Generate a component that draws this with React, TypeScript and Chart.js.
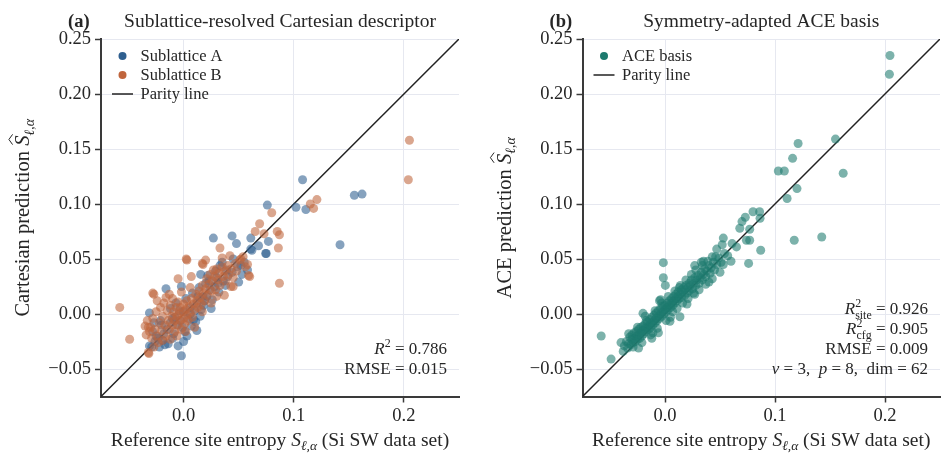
import React, { useEffect, useRef } from "react";
import { Chart, registerables } from "chart.js";

Chart.register(...registerables);

const FONT = "'Liberation Serif', 'Times New Roman', serif";
const TEXT = "#262626";
const SPINE = "#3a3a3a";
const GRID = "#e6e8f0";

type Pt = [number, number];

const xTickValues = [0, 0.1, 0.2];
const yTickValues = [-0.05, 0, 0.05, 0.1, 0.15, 0.2, 0.25];
const axisMin = -0.075;
const axisMax = 0.25;
const parityEnds = [-0.075, 0.25];

const sublatticeA: Pt[] = [
  [0.108, 0.122], [0.155, 0.108], [0.162, 0.109], [0.102, 0.097], [0.111, 0.095], [0.142, 0.063],
  [0.076, 0.099], [0.077, 0.066], [0.075, 0.055], [0.061, 0.069], [0.061, 0.059], [0.044, 0.071],
  [0.048, 0.064], [0.027, 0.069], [0.052, 0.044], [0.050, 0.029], [0.0745, 0.055], [0.062, 0.058],
  [0.049, 0.043], [0.039, 0.040], [0.033, 0.044], [0.022, 0.035], [0.0155, 0.036], [0.026, 0.013],
  [0.0176, 0.016], [-0.002, 0.025], [-0.016, 0.023], [-0.031, 0.001], [-0.031, -0.029], [-0.022, -0.030],
  [-0.005, -0.029], [-0.002, -0.038], [-0.014, -0.027], [-0.019, -0.024], [-0.010, -0.022], [0.001, -0.016],
  [0.007, -0.011], [0.015, -0.002], [-0.028, -0.016], [-0.029, -0.030], [-0.025, -0.020],
  [0.040, 0.034], [0.036, 0.030], [0.030, 0.033], [0.028, 0.025], [0.032, 0.020], [0.024, 0.022],
  [0.020, 0.028], [0.018, 0.008], [0.012, 0.010], [0.010, 0.003], [0.006, 0.006], [0.004, -0.004],
  [0.000, 0.002], [-0.003, -0.006], [-0.006, -0.010], [-0.008, -0.003], [-0.012, -0.008], [-0.015, -0.014],
  [-0.018, -0.018], [-0.020, -0.010], [-0.023, -0.022], [-0.026, -0.025], [-0.012, 0.005], [-0.007, 0.010],
  [0.002, 0.014], [0.008, 0.019], [0.014, 0.024], [0.045, 0.050], [0.055, 0.047], [0.058, 0.040],
  [0.068, 0.062], [0.035, 0.047], [0.029, 0.039], [0.021, 0.016], [0.016, 0.004], [0.009, -0.005],
  [-0.001, -0.012], [-0.017, -0.028], [-0.009, -0.018], [0.003, -0.020], [0.011, -0.007], [0.025, 0.005],
  [0.038, 0.026], [0.044, 0.038], [0.053, 0.036], [-0.004, 0.003], [-0.010, -0.004], [0.006, 0.000],
  [0.013, 0.016], [0.019, 0.012], [0.023, 0.030], [0.031, 0.028], [-0.021, -0.006], [-0.027, -0.008],
  [0.000, -0.025], [0.012, -0.015],
];

const sublatticeB: Pt[] = [
  [0.205, 0.158], [0.204, 0.122], [0.121, 0.104], [0.115, 0.100], [0.118, 0.096], [0.080, 0.092],
  [0.069, 0.082], [0.065, 0.075], [0.073, 0.073], [0.085, 0.075], [0.087, 0.072], [0.086, 0.060],
  [0.087, 0.028], [0.033, 0.060], [0.042, 0.053], [0.035, 0.051], [0.052, 0.050], [0.058, 0.045],
  [0.003, 0.049], [0.020, 0.049], [0.017, 0.046], [0.059, 0.035], [0.043, 0.025], [-0.005, 0.032],
  [-0.027, 0.018], [-0.013, 0.018], [-0.058, 0.006], [-0.049, -0.023], [-0.032, -0.035], [-0.035, -0.011],
  [-0.034, -0.019], [0.0024, 0.050], [0.0176, 0.045], [0.007, 0.034], [0.051, 0.049], [0.060, 0.034],
  [0.045, 0.025], [0.037, 0.017], [0.030, 0.016], [-0.028, 0.019], [-0.0315, -0.036], [-0.032, -0.012],
  [-0.030, -0.012], [-0.028, -0.004], [-0.026, -0.014], [-0.025, 0.002], [-0.024, -0.020], [-0.022, -0.008],
  [-0.021, 0.006], [-0.020, -0.015], [-0.019, -0.002], [-0.018, 0.010], [-0.017, -0.010], [-0.016, -0.020],
  [-0.015, 0.003], [-0.014, -0.006], [-0.013, -0.014], [-0.012, 0.008], [-0.011, -0.002], [-0.010, -0.010],
  [-0.010, 0.014], [-0.009, 0.002], [-0.008, -0.006], [-0.008, -0.016], [-0.007, 0.006], [-0.006, -0.002],
  [-0.005, -0.010], [-0.005, 0.011], [-0.004, 0.000], [-0.003, -0.006], [-0.003, 0.006], [-0.002, -0.014],
  [-0.001, 0.002], [0.000, -0.004], [0.000, 0.009], [0.001, -0.009], [0.002, 0.004], [0.003, -0.001],
  [0.003, 0.012], [0.004, -0.006], [0.005, 0.007], [0.006, 0.001], [0.007, 0.014], [0.008, -0.003],
  [0.009, 0.009], [0.010, 0.004], [0.011, 0.018], [0.012, 0.012], [0.013, 0.006], [0.014, 0.021],
  [0.015, 0.015], [0.016, 0.009], [0.017, 0.026], [0.018, 0.019], [0.019, 0.012], [0.020, 0.023],
  [0.021, 0.032], [0.022, 0.017], [0.023, 0.027], [0.024, 0.036], [0.025, 0.021], [0.026, 0.030],
  [0.027, 0.040], [0.028, 0.034], [0.029, 0.022], [0.030, 0.041], [0.031, 0.031], [0.032, 0.037],
  [0.033, 0.026], [0.035, 0.043], [0.036, 0.034], [0.037, 0.039], [0.038, 0.030], [0.040, 0.044],
  [0.041, 0.036], [0.043, 0.041], [0.045, 0.033], [0.047, 0.046], [0.048, 0.039], [0.054, 0.052],
  [0.056, 0.043], [-0.023, -0.026], [-0.019, -0.024], [-0.027, -0.030], [-0.012, -0.023], [-0.006, -0.020],
  [0.002, -0.016], [-0.029, -0.022], [-0.031, -0.016], [-0.033, -0.006], [-0.024, 0.012], [-0.016, 0.015],
  [-0.002, 0.020], [0.006, 0.024], [0.010, -0.012], [0.017, 0.002], [0.025, 0.010],
];

const aceBasis: Pt[] = [
  [0.2045, 0.235], [0.204, 0.218], [0.121, 0.155], [0.155, 0.159], [0.116, 0.1415], [0.103, 0.130],
  [0.1085, 0.130], [0.162, 0.128], [0.120, 0.114], [0.111, 0.105], [0.080, 0.093], [0.086, 0.093],
  [0.0864, 0.087], [0.073, 0.088], [0.070, 0.084], [0.068, 0.078], [0.077, 0.077], [0.053, 0.069],
  [0.061, 0.064], [0.065, 0.061], [0.074, 0.067], [0.077, 0.067], [0.1175, 0.067], [0.1425, 0.070],
  [0.087, 0.058], [0.047, 0.059], [0.052, 0.063], [0.076, 0.046], [0.053, 0.045], [0.060, 0.048],
  [0.043, 0.052], [0.035, 0.048], [0.027, 0.044], [-0.0015, 0.0467], [-0.0015, 0.033], [0.0003, 0.026],
  [-0.005, 0.012], [-0.020, 0.0006], [-0.058, -0.020], [-0.049, -0.041], [-0.006, -0.017], [-0.012, -0.022],
  [0.0136, -0.0025], [0.0045, -0.0067],
  [-0.037, -0.029], [-0.035, -0.025], [-0.034, -0.031], [-0.033, -0.027], [-0.032, -0.021], [-0.031, -0.028],
  [-0.030, -0.023], [-0.030, -0.019], [-0.029, -0.026], [-0.028, -0.022], [-0.028, -0.017], [-0.027, -0.025],
  [-0.026, -0.020], [-0.026, -0.016], [-0.025, -0.023], [-0.024, -0.019], [-0.024, -0.014], [-0.023, -0.022],
  [-0.022, -0.017], [-0.022, -0.012], [-0.021, -0.020], [-0.020, -0.015], [-0.020, -0.011], [-0.019, -0.018],
  [-0.018, -0.013], [-0.018, -0.009], [-0.017, -0.016], [-0.016, -0.012], [-0.016, -0.007], [-0.015, -0.014],
  [-0.014, -0.010], [-0.014, -0.005], [-0.013, -0.012], [-0.012, -0.008], [-0.012, -0.003], [-0.011, -0.010],
  [-0.010, -0.006], [-0.010, -0.001], [-0.009, -0.008], [-0.008, -0.004], [-0.008, 0.001], [-0.007, -0.006],
  [-0.006, -0.002], [-0.006, 0.003], [-0.005, -0.004], [-0.004, 0.000], [-0.004, 0.005], [-0.003, -0.002],
  [-0.002, 0.002], [-0.002, 0.007], [-0.001, 0.000], [0.000, 0.004], [0.000, 0.008], [0.001, 0.002],
  [0.002, 0.006], [0.002, 0.010], [0.003, 0.004], [0.004, 0.008], [0.004, 0.012], [0.005, 0.006],
  [0.006, 0.010], [0.006, 0.014], [0.007, 0.008], [0.008, 0.012], [0.008, 0.016], [0.009, 0.010],
  [0.010, 0.014], [0.010, 0.018], [0.011, 0.012], [0.012, 0.016], [0.012, 0.020], [0.013, 0.014],
  [0.014, 0.018], [0.015, 0.022], [0.015, 0.015], [0.016, 0.020], [0.017, 0.024], [0.018, 0.017],
  [0.018, 0.022], [0.019, 0.026], [0.020, 0.019], [0.021, 0.024], [0.022, 0.028], [0.022, 0.021],
  [0.023, 0.026], [0.024, 0.031], [0.025, 0.023], [0.026, 0.028], [0.027, 0.033], [0.028, 0.026],
  [0.029, 0.031], [0.030, 0.035], [0.031, 0.028], [0.032, 0.033], [0.033, 0.038], [0.034, 0.031],
  [0.035, 0.036], [0.036, 0.041], [0.037, 0.034], [0.038, 0.039], [0.040, 0.044], [0.041, 0.037],
  [0.042, 0.042], [0.044, 0.047], [0.045, 0.040], [0.047, 0.045], [0.049, 0.051], [0.051, 0.047],
  [0.054, 0.055], [0.057, 0.053],
  [-0.040, -0.026], [-0.038, -0.034], [-0.033, -0.018], [-0.029, -0.030], [-0.025, -0.012], [-0.021, -0.026],
  [-0.017, -0.006], [-0.013, -0.019], [-0.009, 0.003], [-0.007, -0.013], [-0.003, 0.010], [0.001, -0.006],
  [0.003, 0.016], [0.007, 0.002], [0.009, 0.021], [0.011, 0.005], [0.014, 0.026], [0.016, 0.010],
  [0.019, 0.031], [0.021, 0.014], [0.024, 0.036], [0.026, 0.019], [0.028, 0.040], [0.031, 0.022],
  [0.034, 0.044], [0.037, 0.027], [0.039, 0.048], [0.043, 0.032], [0.046, 0.052], [0.050, 0.038],
  [-0.024, -0.031], [-0.018, -0.002], [-0.011, -0.017], [-0.004, 0.013], [0.005, -0.003], [0.013, 0.024],
  [0.020, 0.009], [0.027, 0.018], [0.033, 0.047], [0.040, 0.029],
];

const statsA = ["0.786", "0.015"];
const statsB = ["0.926", "0.905", "0.009"];
const hyperB = ["3", "8", "62"];

const COLOR_A = "#2f5f8f";
const COLOR_B = "#c0653d";
const COLOR_ACE = "#1d7a6e";

function rgba(hex: string, a: number) {
  const n = parseInt(hex.slice(1), 16);
  return `rgba(${(n >> 16) & 255},${(n >> 8) & 255},${n & 255},${a})`;
}

type Seg = { t: string; it?: boolean; b?: boolean; sz?: number; dy?: number; hat?: boolean; sup?: string; sub?: string };

function fnt(sz: number, it?: boolean, b?: boolean) {
  return `${b ? "bold " : ""}${it ? "italic " : ""}${sz}px ${FONT}`;
}

function segW(ctx: CanvasRenderingContext2D, s: Seg, base: number) {
  if (s.sup !== undefined) {
    ctx.font = fnt(base * 0.7);
    return Math.max(ctx.measureText(s.sup).width, ctx.measureText(s.sub ?? "").width);
  }
  ctx.font = fnt(s.sz ?? base, s.it, s.b);
  return ctx.measureText(s.t).width;
}

function drawRich(ctx: CanvasRenderingContext2D, segs: Seg[], x: number, y: number, align: string, base: number) {
  const ws = segs.map((s) => segW(ctx, s, base));
  const total = ws.reduce((a, b) => a + b, 0);
  let cx = align === "left" ? x : align === "center" ? x - total / 2 : x - total;
  ctx.fillStyle = TEXT;
  ctx.textAlign = "left";
  ctx.textBaseline = "alphabetic";
  segs.forEach((s, i) => {
    if (s.sup !== undefined) {
      ctx.font = fnt(base * 0.7);
      ctx.fillText(s.sup, cx, y - base * 0.4);
      if (s.sub) ctx.fillText(s.sub, cx, y + base * 0.28);
    } else {
      const sz = s.sz ?? base;
      ctx.font = fnt(sz, s.it, s.b);
      ctx.fillText(s.t, cx, y + (s.dy ?? 0));
      if (s.hat) {
        const w = ws[i];
        ctx.save();
        ctx.strokeStyle = TEXT;
        ctx.lineWidth = 1;
        ctx.beginPath();
        const top = y - sz * 0.98;
        const bot = y - sz * 0.8;
        ctx.moveTo(cx + w * 0.12, bot);
        ctx.lineTo(cx + w * 0.62, top);
        ctx.lineTo(cx + w * 1.12, bot);
        ctx.stroke();
        ctx.restore();
      }
    }
    cx += ws[i];
  });
}

type LegendItem = { label: string; color?: string; line?: boolean };

type PanelCfg = {
  left: number;
  width: number;
  axisW: number;
  padRight: number;
  tag: string;
  title: string;
  yPrefix: string;
  series: { label: string; data: Pt[]; color: string }[];
  legend: LegendItem[];
  stats: Seg[][];
};

function fmtTick(v: number, d: number) {
  const s = Math.abs(v).toFixed(d);
  return v < -1e-9 ? "\u2212" + s : s;
}

const LABEL_SIZE = 19.5;
const YLABEL_SIZE = 20.5;

function Panel({ cfg }: { cfg: PanelCfg }) {
  const ref = useRef<HTMLCanvasElement>(null);
  useEffect(() => {
    const textPlugin = {
      id: "texts",
      afterDraw(chart: any) {
        const ctx: CanvasRenderingContext2D = chart.ctx;
        const a = chart.chartArea;
        ctx.save();
        const cxMid = (a.left + a.right) / 2;
        drawRich(ctx, [{ t: cfg.title }], cxMid, 27, "center", LABEL_SIZE);
        drawRich(ctx, [{ t: cfg.tag, b: true }], a.left - 33, 27, "left", 18.5);
        drawRich(
          ctx,
          [
            { t: "Reference site entropy " },
            { t: "S", it: true },
            { t: "\u2113,\u03b1", it: true, sz: 13.5, dy: 4 },
            { t: " (Si SW data set)" },
          ],
          cxMid,
          446,
          "center",
          LABEL_SIZE
        );
        ctx.save();
        ctx.translate(a.left - 72, (a.top + a.bottom) / 2);
        ctx.rotate(-Math.PI / 2);
        drawRich(
          ctx,
          [
            { t: cfg.yPrefix },
            { t: "S", it: true, hat: true },
            { t: "\u2113,\u03b1", it: true, sz: 14, dy: 4.5 },
          ],
          0,
          0,
          "center",
          YLABEL_SIZE
        );
        ctx.restore();
        cfg.legend.forEach((it, i) => {
          const y = a.top + 17 + i * 19;
          if (it.line) {
            ctx.strokeStyle = "#222";
            ctx.lineWidth = 1.5;
            ctx.beginPath();
            ctx.moveTo(a.left + 11, y);
            ctx.lineTo(a.left + 32, y);
            ctx.stroke();
          } else {
            ctx.fillStyle = it.color!;
            ctx.beginPath();
            ctx.arc(a.left + 21.5, y, 4, 0, Math.PI * 2);
            ctx.fill();
          }
          ctx.fillStyle = TEXT;
          ctx.font = fnt(16.5);
          ctx.textAlign = "left";
          ctx.textBaseline = "middle";
          ctx.fillText(it.label, a.left + 39.5, y + 1);
        });
        const n = cfg.stats.length;
        cfg.stats.forEach((line, i) => {
          const y = a.bottom - 23 - (n - 1 - i) * 19.8;
          drawRich(ctx, line, a.right - 12, y, "right", 17);
        });
        ctx.restore();
      },
    };

    const datasets: any[] = [];
    [...cfg.series].reverse().forEach((s) => {
      datasets.push({
        label: s.label,
        data: s.data.map(([x, y]) => ({ x, y })),
        backgroundColor: rgba(s.color, 0.58),
        borderWidth: 0,
        pointRadius: 4.5,
        pointHoverRadius: 4.5,
      });
    });
    datasets.push({
      label: "Parity line",
      data: parityEnds.map((v) => ({ x: v, y: v })),
      showLine: true,
      borderColor: "#222",
      borderWidth: 1.5,
      pointRadius: 0,
      fill: false,
    });

    const tickFont = { family: FONT, size: 18.5 };
    const chart = new Chart(ref.current!, {
      type: "scatter",
      data: { datasets },
      options: {
        animation: false,
        responsive: false,
        devicePixelRatio: 1,
        layout: { padding: { top: 39, right: cfg.padRight, left: 0, bottom: 0 } },
        plugins: { legend: { display: false }, tooltip: { enabled: false }, title: { display: false } },
        scales: {
          x: {
            type: "linear",
            min: axisMin,
            max: axisMax,
            afterBuildTicks: (s: any) => {
              s.ticks = xTickValues.map((v) => ({ value: v }));
            },
            afterFit: (s: any) => {
              s.height = 65.5;
            },
            ticks: {
              callback: (v: any) => fmtTick(Number(v), 1),
              font: tickFont,
              color: TEXT,
              padding: 3,
              maxRotation: 0,
              autoSkip: false,
            },
            grid: { color: GRID, lineWidth: 1, tickColor: SPINE, tickLength: 6, tickWidth: 1.5 },
            border: { display: true, color: SPINE, width: 2 },
          },
          y: {
            type: "linear",
            min: axisMin,
            max: axisMax,
            afterBuildTicks: (s: any) => {
              s.ticks = yTickValues.map((v) => ({ value: v }));
            },
            afterFit: (s: any) => {
              s.width = cfg.axisW;
            },
            ticks: {
              callback: (v: any) => fmtTick(Number(v), 2),
              font: tickFont,
              color: TEXT,
              padding: 4,
              autoSkip: false,
            },
            grid: { color: GRID, lineWidth: 1, tickColor: SPINE, tickLength: 6, tickWidth: 1.5 },
            border: { display: true, color: SPINE, width: 2 },
          },
        },
      } as any,
      plugins: [textPlugin],
    });
    return () => chart.destroy();
  }, []);
  return (
    <canvas
      ref={ref}
      width={cfg.width}
      height={462}
      style={{ position: "absolute", left: cfg.left, top: 0, width: cfg.width, height: 462 }}
    />
  );
}

const panelA: PanelCfg = {
  left: 0,
  width: 474,
  axisW: 101,
  padRight: 15,
  tag: "(a)",
  title: "Sublattice-resolved Cartesian descriptor",
  yPrefix: "Cartesian prediction ",
  series: [
    { label: "Sublattice A", data: sublatticeA, color: COLOR_A },
    { label: "Sublattice B", data: sublatticeB, color: COLOR_B },
  ],
  legend: [
    { label: "Sublattice A", color: COLOR_A },
    { label: "Sublattice B", color: COLOR_B },
    { label: "Parity line", line: true },
  ],
  stats: [
    [{ t: "R", it: true }, { t: "", sup: "2" }, { t: " = " + statsA[0] }],
    [{ t: "RMSE = " + statsA[1] }],
  ],
};

const panelB: PanelCfg = {
  left: 474,
  width: 475,
  axisW: 108.5,
  padRight: 9,
  tag: "(b)",
  title: "Symmetry-adapted ACE basis",
  yPrefix: "ACE prediction ",
  series: [{ label: "ACE basis", data: aceBasis, color: COLOR_ACE }],
  legend: [
    { label: "ACE basis", color: COLOR_ACE },
    { label: "Parity line", line: true },
  ],
  stats: [
    [{ t: "R", it: true }, { t: "", sup: "2", sub: "site" }, { t: " = " + statsB[0] }],
    [{ t: "R", it: true }, { t: "", sup: "2", sub: "cfg" }, { t: " = " + statsB[1] }],
    [{ t: "RMSE = " + statsB[2] }],
    [
      { t: "\u03bd", it: true },
      { t: " = " + hyperB[0] + ",  " },
      { t: "p", it: true },
      { t: " = " + hyperB[1] + ",  dim = " + hyperB[2] },
    ],
  ],
};

export default function App() {
  return (
    <div style={{ position: "absolute", left: 0, top: 0, width: 949, height: 462, background: "#fff" }}>
      <Panel cfg={panelA} />
      <Panel cfg={panelB} />
    </div>
  );
}
